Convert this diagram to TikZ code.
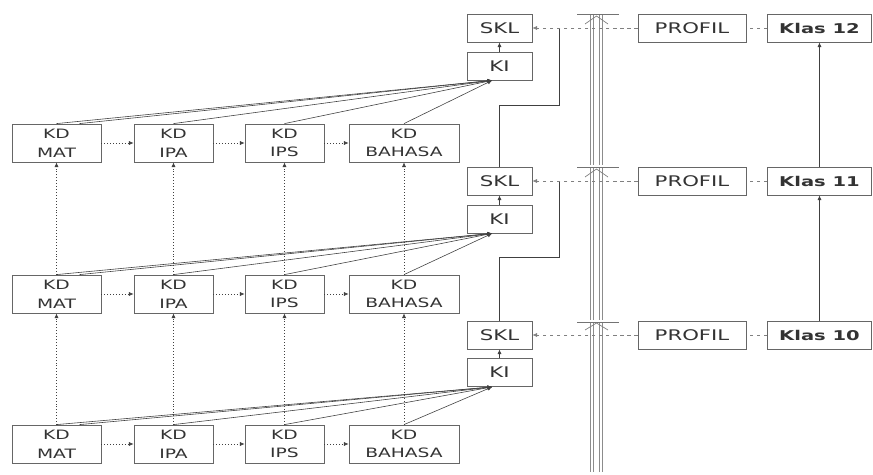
\documentclass[tikz,border=0pt]{standalone}
\usepackage{fontspec}
\newfontfamily\diafont[FakeStretch=1.45]{DejaVu Sans}
\usetikzlibrary{arrows.meta}

\begin{document}
\begin{tikzpicture}[x=0.03cm,y=-0.03cm,
  every node/.style={font=\diafont\fontsize{12.5}{15}\selectfont, text=black!80},
  box/.style={draw=black!60, line width=0.7pt, inner sep=0pt, minimum height=0.84cm},
  kdbox/.style={box, minimum height=1.14cm, align=center, font=\diafont\fontsize{11}{16}\selectfont},
  klasbox/.style={box, minimum width=3.12cm, font=\diafont\bfseries\fontsize{11.5}{14}\selectfont},
  link/.style={draw=black!75, line width=0.5pt, -{Latex[length=4pt,width=3.5pt]}},
  dotlink/.style={link, dotted},
  dashlink/.style={draw=black!50, line width=0.5pt, dashed},
  rail/.style={draw=black!45, line width=0.8pt, double=white, double distance=1.4pt}]
\useasboundingbox (0,0) rectangle (873,474);
\node [kdbox, minimum width=2.67cm] (mat12) at (56.5,143) {KD\\MAT};
\node [kdbox, minimum width=2.37cm] (ipa12) at (173.5,143) {KD\\IPA};
\node [kdbox, minimum width=2.37cm] (ips12) at (284.5,143) {KD\\IPS};
\node [kdbox, minimum width=3.3cm] (bhs12) at (404,143) {KD\\BAHASA};
\node [kdbox, minimum width=2.67cm] (mat11) at (56.5,294) {KD\\MAT};
\node [kdbox, minimum width=2.37cm] (ipa11) at (173.5,294) {KD\\IPA};
\node [kdbox, minimum width=2.37cm] (ips11) at (284.5,294) {KD\\IPS};
\node [kdbox, minimum width=3.3cm] (bhs11) at (404,294) {KD\\BAHASA};
\node [kdbox, minimum width=2.67cm] (mat10) at (56.5,444) {KD\\MAT};
\node [kdbox, minimum width=2.37cm] (ipa10) at (173.5,444) {KD\\IPA};
\node [kdbox, minimum width=2.37cm] (ips10) at (284.5,444) {KD\\IPS};
\node [kdbox, minimum width=3.3cm] (bhs10) at (404,444) {KD\\BAHASA};
\node [box, minimum width=1.95cm] (skl12) at (499.5,28) {SKL};
\node [box, minimum width=1.95cm] (ki12) at (499.5,66) {KI};
\node [box, minimum width=1.95cm] (skl11) at (499.5,181) {SKL};
\node [box, minimum width=1.95cm] (ki11) at (499.5,219) {KI};
\node [box, minimum width=1.95cm] (skl10) at (499.5,335) {SKL};
\node [box, minimum width=1.95cm] (ki10) at (499.5,372.5) {KI};
\node [box, minimum width=3.24cm] (prof12) at (692,28) {PROFIL};
\node [box, minimum width=3.24cm] (prof11) at (692,181) {PROFIL};
\node [box, minimum width=3.24cm] (prof10) at (692,335) {PROFIL};
\node [klasbox] (klas12) at (819.5,28) {Klas 12};
\node [klasbox] (klas11) at (819.5,181) {Klas 11};
\node [klasbox] (klas10) at (819.5,335) {Klas 10};
\draw [rail] (592,14) -- (592,165);
\draw [rail] (601,14) -- (601,165);
\draw [rail] (592,167) -- (592,320);
\draw [rail] (601,167) -- (601,320);
\draw [rail] (592,322) -- (592,472);
\draw [rail] (601,322) -- (601,472);
\draw [black!55, line width=0.5pt] (577,14) -- (619,14);
\draw [black!55, line width=0.5pt] (577,167) -- (619,167);
\draw [black!55, line width=0.5pt] (577,322) -- (619,322);
\draw [black!50, line width=0.6pt] (585,24) -- (596.5,16) -- (608,24);
\draw [black!50, line width=0.6pt] (585,177) -- (596.5,169) -- (608,177);
\draw [black!50, line width=0.6pt] (585,330) -- (596.5,323) -- (608,330);
\draw [dotlink] (mat12) -- (ipa12);
\draw [dotlink] (ipa12) -- (ips12);
\draw [dotlink] (ips12) -- (bhs12);
\draw [dotlink] (mat11) -- (ipa11);
\draw [dotlink] (ipa11) -- (ips11);
\draw [dotlink] (ips11) -- (bhs11);
\draw [dotlink] (mat10) -- (ipa10);
\draw [dotlink] (ipa10) -- (ips10);
\draw [dotlink] (ips10) -- (bhs10);
\draw [dotlink] (mat11) -- (mat12);
\draw [dotlink] (ipa11) -- (ipa12);
\draw [dotlink] (ips11) -- (ips12);
\draw [dotlink] (bhs11) -- (bhs12);
\draw [dotlink] (mat10) -- (mat11);
\draw [dotlink] (ipa10) -- (ipa11);
\draw [dotlink] (ips10) -- (ips11);
\draw [dotlink] (bhs10) -- (bhs11);
\coordinate (in12) at ([xshift=-0.22cm]ki12.south);
\coordinate (in11) at ([xshift=-0.22cm]ki11.south);
\coordinate (in10) at ([xshift=-0.22cm]ki10.south);
\draw [link] (mat12.north) -- (in12);
\draw [link] ([xshift=0.69cm]mat12.north) -- (in12);
\draw [link] (ipa12.north) -- (in12);
\draw [link] (ips12.north) -- (in12);
\draw [link] (bhs12.north) -- (in12);
\draw [link] (mat11.north) -- (in11);
\draw [link] ([xshift=0.69cm]mat11.north) -- (in11);
\draw [link] (ipa11.north) -- (in11);
\draw [link] (ips11.north) -- (in11);
\draw [link] (bhs11.north) -- (in11);
\draw [link] (mat10.north) -- (in10);
\draw [link] ([xshift=0.69cm]mat10.north) -- (in10);
\draw [link] (ipa10.north) -- (in10);
\draw [link] (ips10.north) -- (in10);
\draw [link] (bhs10.north) -- (in10);
\draw [link] (ki12) -- (skl12);
\draw [link] (ki11) -- (skl11);
\draw [link] (ki10) -- (skl10);
\coordinate (up12) at (559,105);
\coordinate (up11) at (559,257);
\draw [black!75, line width=0.5pt] (skl11.north) |- (up12) -- (up12 |- skl12.east);
\draw [black!75, line width=0.5pt] (skl10.north) |- (up11) -- (up11 |- skl11.east);
\draw [dashlink, -{Latex[length=4pt,width=3.5pt]}] (prof12) -- (skl12);
\draw [dashlink, -{Latex[length=4pt,width=3.5pt]}] (prof11) -- (skl11);
\draw [dashlink, -{Latex[length=4pt,width=3.5pt]}] (prof10) -- (skl10);
\draw [dashlink] (klas12) -- (prof12);
\draw [dashlink] (klas11) -- (prof11);
\draw [dashlink] (klas10) -- (prof10);
\draw [link] (klas10) -- (klas11);
\draw [link] (klas11) -- (klas12);
\end{tikzpicture}
\end{document}
